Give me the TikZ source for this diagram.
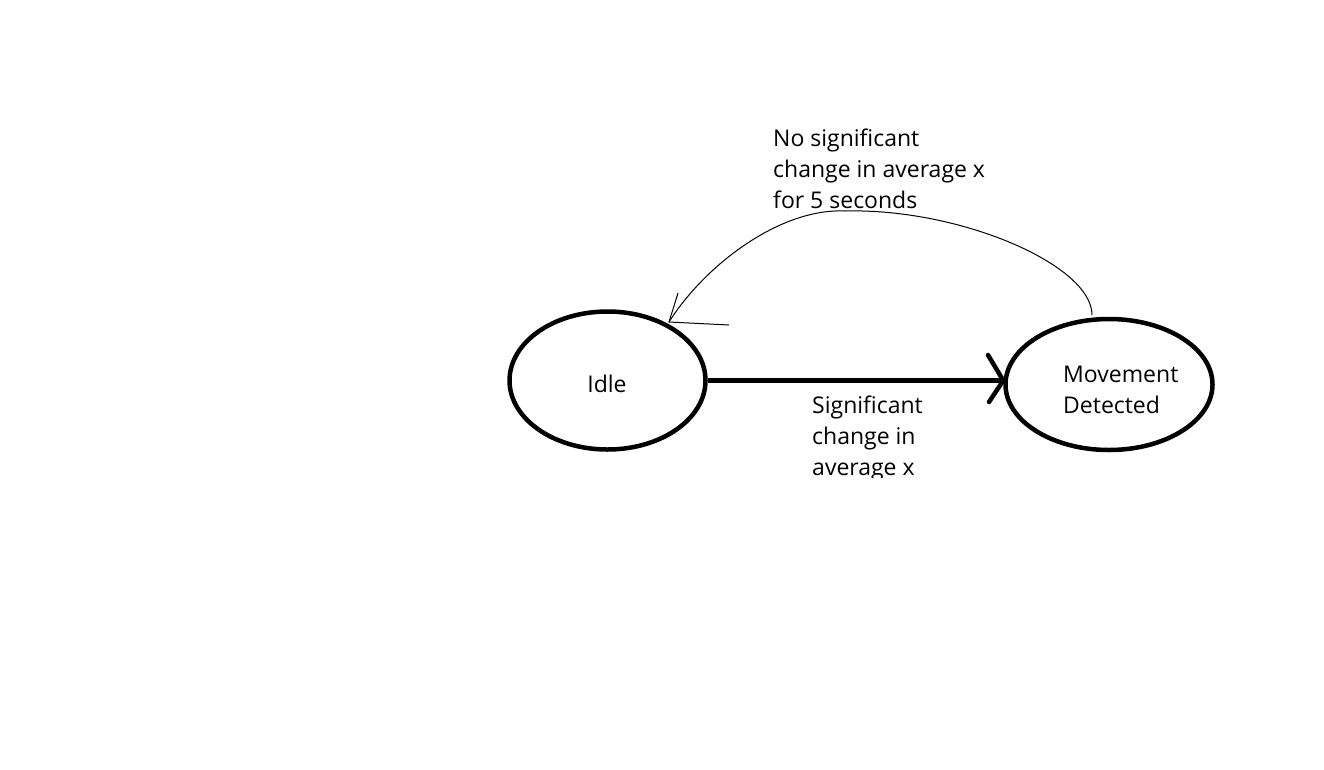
\documentclass[tikz,border=0pt]{standalone}
\usepackage{fontspec}
\setmainfont{Open Sans}
\usetikzlibrary{shapes.geometric}
\tikzset{
  statebox/.style={draw, line width=4.5pt, ellipse, inner sep=0pt},
  lbl/.style={inner sep=0pt, font=\fontsize{23}{31}\selectfont, align=left},
  thickarrow/.style={line width=4.5pt},
  thinline/.style={line width=1pt}
}
\begin{document}
\begin{tikzpicture}[x=1pt,y=-1pt]
\useasboundingbox (0,0) rectangle (1324,769);
% states
\node[statebox, minimum width=196pt, minimum height=138pt] (idle) at (607.5,380.5) {};
\node[lbl, anchor=base] (idletext) at (607,392) {Idle};
\node[statebox, minimum width=207pt, minimum height=131pt] (md) at (1109,384.5) {};
\node[lbl, anchor=base west] (mdtext) at (1063,413) {Movement\\Detected};
% forward transition
\coordinate (ftip) at (idle.east -| md.west);
\draw[thickarrow] (idle.east) -- (ftip);
\draw[thickarrow, line cap=round] (988,355) -- (ftip) -- (989,402);
\begin{scope}
\clip (800,380) rectangle (980,477);
\node[lbl, anchor=base west] (fwd) at (812,475) {Significant\\change in\\average x};
\end{scope}
% back transition
\coordinate (bstart) at (1092,315);
\coordinate (btop) at (845,211);
\coordinate (btip) at (669,322);
\draw[thinline] (bstart) .. controls (1092,265) and (960,208) .. (btop)
  .. controls (780,208) and (705,265) .. (btip);
\draw[thinline] (678,293) -- (btip) -- (729,325);
\node[lbl, anchor=base west] (back) at (773,208) {No significant\\change in average x\\for 5 seconds};
\end{tikzpicture}
\end{document}
